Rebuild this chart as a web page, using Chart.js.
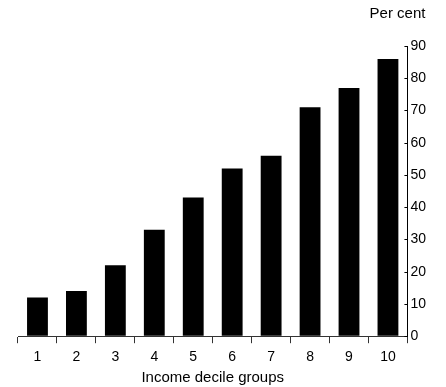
<!DOCTYPE html>
<html>
<head>
<meta charset="utf-8">
<script src="https://cdn.jsdelivr.net/npm/chart.js@4"></script>
<style>
  html, body { margin: 0; padding: 0; background: #fff; }
  #wrap { width: 446px; height: 387px; position: relative; }
</style>
</head>
<body>
<div id="wrap"><canvas id="decileChart"></canvas></div>
<script>
// Data
const deciles = ["1", "2", "3", "4", "5", "6", "7", "8", "9", "10"];
const percentValues = [12, 14, 22, 33, 43, 52, 56, 71, 77, 86];
const yMin = 0;
const yMax = 90;
const yStep = 10;
const yUnitLabel = "Per cent";
const xTitle = "Income decile groups";

const fontFamily = "'Liberation Sans', Arial, Helvetica, sans-serif";

// small inward ticks on the right axis + the "Per cent" label
const axisExtras = {
    id: "axisExtras",
    afterDraw(chart) {
        const ctx = chart.ctx;
        const y = chart.scales.y;
        ctx.save();
        ctx.strokeStyle = "#000";
        ctx.lineWidth = 1;
        y.ticks.forEach(t => {
            const py = Math.round(y.getPixelForValue(t.value)) + 0.5;
            ctx.beginPath();
            ctx.moveTo(y.left - 3, py);
            ctx.lineTo(y.left, py);
            ctx.stroke();
        });
        ctx.fillStyle = "#000";
        ctx.font = "15px " + fontFamily;
        ctx.textAlign = "right";
        ctx.textBaseline = "middle";
        ctx.fillText(yUnitLabel, y.left + 18, y.top - 32);
        ctx.restore();
    }
};

new Chart(document.getElementById("decileChart"), {
    type: "bar",
    data: {
        labels: deciles,
        datasets: [{
            data: percentValues,
            backgroundColor: "#000",
            borderWidth: 0,
            barPercentage: 0.535,
            categoryPercentage: 1.0,
        }],
    },
    options: {
        responsive: true,
        maintainAspectRatio: false,
        animation: false,
        layout: { padding: { top: 46, left: 18, right: 17, bottom: 0 } },
        plugins: {
            legend: { display: false },
            tooltip: { enabled: false },
        },
        scales: {
            x: {
                grid: {
                    offset: true,
                    drawOnChartArea: false,
                    tickLength: 7,
                    color: "#333",
                },
                border: { color: "#333", width: 1 },
                ticks: {
                    color: "#000",
                    padding: 6,
                    font: { family: fontFamily, size: 14 },
                },
                title: {
                    display: true,
                    text: xTitle,
                    color: "#000",
                    padding: { top: -3, bottom: 0 },
                    font: { family: fontFamily, size: 15 },
                },
            },
            y: {
                position: "right",
                min: yMin,
                max: yMax,
                grid: { drawOnChartArea: false, drawTicks: false },
                border: { color: "#000", width: 1 },
                ticks: {
                    stepSize: yStep,
                    color: "#000",
                    padding: 3,
                    font: { family: fontFamily, size: 14 },
                },
            },
        },
    },
    plugins: [axisExtras],
});
</script>
</body>
</html>
